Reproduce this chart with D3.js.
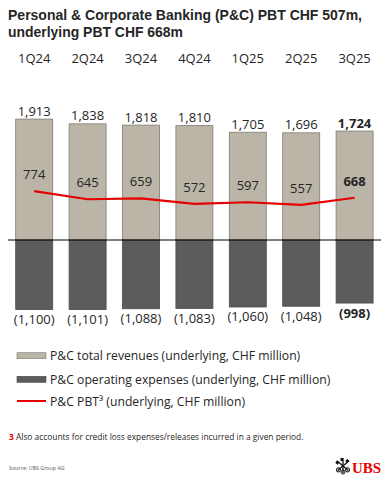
<!DOCTYPE html>
<html>
<head>
<meta charset="utf-8">
<script src="https://cdn.jsdelivr.net/npm/d3@7"></script>
<style>
  html, body { margin: 0; padding: 0; background: #fff; }
  svg { display: block; font-family: "Open Sans", "Noto Sans", sans-serif; }
</style>
</head>
<body>
<svg width="389" height="480"></svg>
<script>
const quarters = ["1Q24", "2Q24", "3Q24", "4Q24", "1Q25", "2Q25", "3Q25"];
const revenues = [1913, 1838, 1818, 1810, 1705, 1696, 1724];
const expenses = [1100, 1101, 1088, 1083, 1060, 1048, 998];
const pbt = [774, 645, 659, 572, 597, 557, 668];
const legendLabels = [
  "P&C total revenues (underlying, CHF million)",
  "P&C operating expenses (underlying, CHF million)",
  "P&C PBT³ (underlying, CHF million)"
];

const svg = d3.select("svg");
const textColor = "#262626";
const revColor = "#bab5a6";
const expColor = "#5b5c5b";
const red = "#e60000";

const fmt = d3.format(",");

// escala x por trimestre
const x = d3.scaleBand()
  .domain(quarters)
  .range([7.5, 381.3])
  .paddingInner(0.307)
  .paddingOuter(0.1535);

// escala y comum para barras e linha
const y = d3.scaleLinear()
  .domain([-1200, 2000])
  .range([240 + 1200 * 0.0632, 240 - 2000 * 0.0632]);

// titulo
const title = svg.append("g").attr("fill", textColor)
  .style("font-family", "'Liberation Sans', Arial, sans-serif")
  .style("font-weight", "bold").style("font-size", "14.5px");
title.append("text").attr("x", 8).attr("y", 20)
  .attr("textLength", 354).attr("lengthAdjust", "spacingAndGlyphs")
  .text("Personal & Corporate Banking (P&C) PBT CHF 507m,");
title.append("text").attr("x", 8).attr("y", 37)
  .attr("textLength", 175).attr("lengthAdjust", "spacingAndGlyphs")
  .text("underlying PBT CHF 668m");

// rotulos dos trimestres
svg.append("g").selectAll("text")
  .data(quarters)
  .join("text")
  .attr("x", d => x(d) + x.bandwidth() / 2)
  .attr("y", 63)
  .attr("text-anchor", "middle")
  .attr("fill", textColor)
  .style("font-size", "13px")
  .text(d => d);

const data = quarters.map((q, i) => ({ q, rev: revenues[i], exp: expenses[i], pbt: pbt[i], last: i === quarters.length - 1 }));

// barras de receita
svg.append("g").selectAll("rect")
  .data(data)
  .join("rect")
  .attr("x", d => x(d.q))
  .attr("width", x.bandwidth())
  .attr("y", d => y(d.rev))
  .attr("height", d => y(0) - y(d.rev))
  .attr("fill", revColor)
  .attr("stroke", "#7d7b74")
  .attr("stroke-width", 0.8);

// barras de despesas
svg.append("g").selectAll("rect")
  .data(data)
  .join("rect")
  .attr("x", d => x(d.q))
  .attr("width", x.bandwidth())
  .attr("y", y(0))
  .attr("height", d => y(-d.exp) - y(0))
  .attr("fill", expColor)
  .attr("stroke", "#4a4b4a")
  .attr("stroke-width", 0.8);

// linha do zero
svg.append("line")
  .attr("x1", 8).attr("x2", 381)
  .attr("y1", y(0)).attr("y2", y(0))
  .attr("stroke", "#000").attr("stroke-width", 1);

// linha do PBT
const line = d3.line()
  .x(d => x(d.q) + x.bandwidth() / 2)
  .y(d => y(d.pbt));
svg.append("path")
  .datum(data)
  .attr("d", line)
  .attr("fill", "none")
  .attr("stroke", red)
  .attr("stroke-width", 2.2);

// rotulos de valores
const labels = svg.append("g").attr("text-anchor", "middle").attr("fill", textColor)
  .style("font-size", "13px");

labels.selectAll(".rev")
  .data(data)
  .join("text")
  .attr("class", "rev")
  .attr("x", d => x(d.q) + x.bandwidth() / 2)
  .attr("y", d => y(d.rev) - 3.5)
  .style("font-weight", d => d.last ? "bold" : null)
  .text(d => fmt(d.rev));

labels.selectAll(".pbt")
  .data(data)
  .join("text")
  .attr("class", "pbt")
  .attr("x", d => x(d.q) + x.bandwidth() / 2)
  .attr("y", d => y(d.pbt) - 12)
  .style("font-weight", d => d.last ? "bold" : null)
  .text(d => fmt(d.pbt));

labels.selectAll(".exp")
  .data(data)
  .join("text")
  .attr("class", "exp")
  .attr("x", d => x(d.q) + x.bandwidth() / 2)
  .attr("y", d => y(-d.exp) + 14.5)
  .style("font-weight", d => d.last ? "bold" : null)
  .text(d => "(" + fmt(d.exp) + ")");

// legenda
const legendY = [355.7, 379.3, 401];
const legend = svg.append("g");
legendLabels.forEach((label, i) => {
  const cy = legendY[i];
  if (i < 2) {
    legend.append("rect")
      .attr("x", 17).attr("y", cy - 3).attr("width", 29).attr("height", 6)
      .attr("fill", i === 0 ? revColor : expColor)
      .attr("stroke", i === 0 ? "#7d7b74" : "#4a4b4a")
      .attr("stroke-width", 0.6);
  } else {
    legend.append("line")
      .attr("x1", 17).attr("x2", 46).attr("y1", cy).attr("y2", cy)
      .attr("stroke", red).attr("stroke-width", 2);
  }
  legend.append("text")
    .attr("x", 50).attr("y", cy + 4.5)
    .attr("fill", textColor)
    .style("font-size", "12.2px")
    .text(label);
});

// nota de rodape
const note = svg.append("text").attr("x", 9).attr("y", 439.7)
  .style("font-size", "8.4px").attr("fill", textColor);
note.append("tspan").attr("fill", red).style("font-weight", "bold").text("3");
note.append("tspan").text(" Also accounts for credit loss expenses/releases incurred in a given period.");

svg.append("text").attr("x", 9).attr("y", 470)
  .style("font-size", "5.3px").attr("fill", "#555")
  .text("Source: UBS Group AG");

// logo UBS
const logo = svg.append("g").attr("transform", "translate(343,466)");
[-50, 0, 50].forEach(a => {
  const k = logo.append("g").attr("transform", `rotate(${a})`);
  k.append("line").attr("x1", 0).attr("x2", 0).attr("y1", -8).attr("y2", 7)
    .attr("stroke", "#111").attr("stroke-width", 1.3);
  k.append("circle").attr("cx", 0).attr("cy", 6).attr("r", 2)
    .attr("fill", "none").attr("stroke", "#111").attr("stroke-width", 1);
  k.append("rect").attr("x", -2.5).attr("y", -8).attr("width", 2.5).attr("height", 3).attr("fill", "#111");
});
svg.append("text").attr("x", 352).attr("y", 473)
  .attr("fill", red)
  .style("font-family", "'Liberation Serif', serif")
  .style("font-weight", "bold")
  .style("font-size", "15px")
  .text("UBS");
</script>
</body>
</html>
